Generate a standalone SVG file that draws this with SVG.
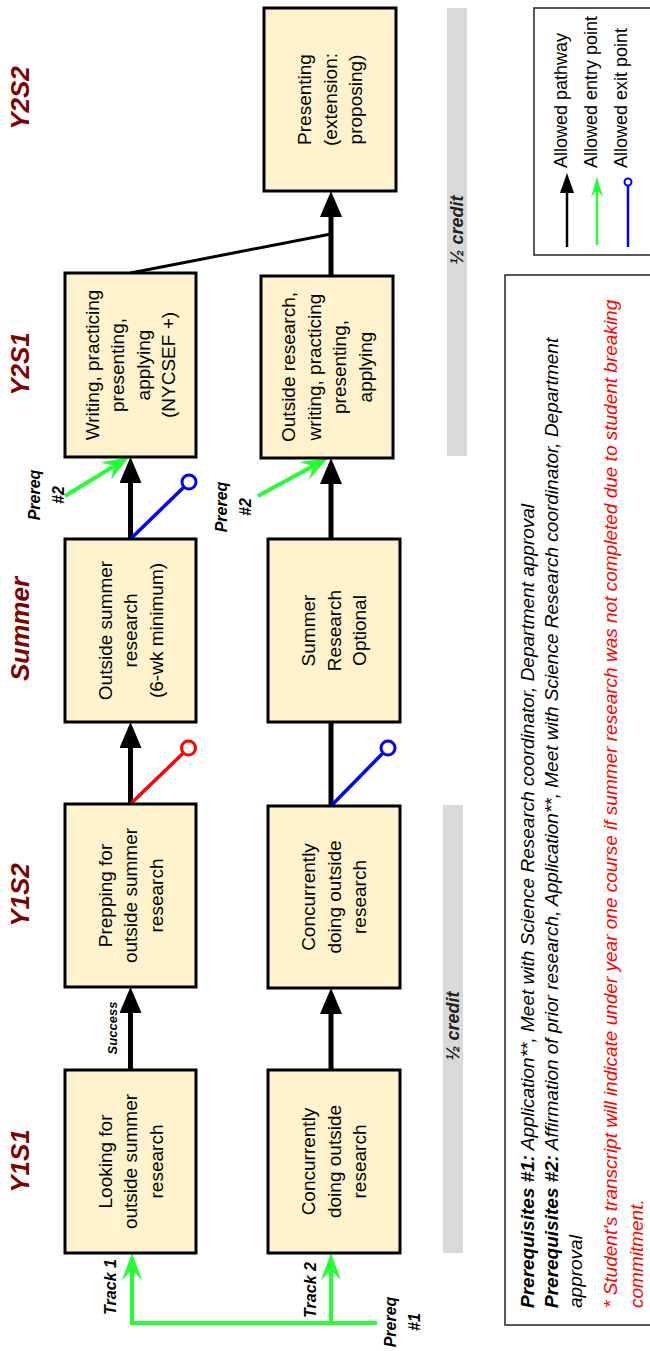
<svg xmlns="http://www.w3.org/2000/svg" width="650" height="1351" viewBox="0 0 650 1351">
<style>
.box{fill:#fff2cc;stroke:#000;stroke-width:3}
.bt{font-family:"Liberation Sans",Arial,sans-serif;font-size:19px;fill:#000;text-anchor:middle}
.per{font-family:"Liberation Sans",Arial,sans-serif;font-size:26px;font-weight:bold;font-style:italic;fill:#7f0000;text-anchor:middle}
.sm{font-family:"Liberation Sans",Arial,sans-serif;font-size:16px;font-weight:bold;font-style:italic;fill:#000;text-anchor:middle}
.leg{font-family:"Liberation Sans",Arial,sans-serif;font-size:18px;fill:#000}
.note{font-family:"Liberation Sans",Arial,sans-serif;font-size:19px;font-style:italic;fill:#000}
.cred{font-family:"Liberation Sans",Arial,sans-serif;font-size:18px;font-weight:bold;font-style:italic;fill:#222;text-anchor:middle}
.pw{stroke:#000;stroke-width:5;fill:none}
.en{stroke:#22ff33;stroke-width:4;fill:none}
.exr{stroke:#ff0000;stroke-width:3.5;fill:none}
.exb{stroke:#0000ff;stroke-width:3.5;fill:none}
.bar{fill:#d9d9d9}
.frame{fill:#fff;stroke:#222;stroke-width:1.5}
</style>
<defs>
<marker id="ah" markerUnits="userSpaceOnUse" viewBox="0 0 26 22" markerWidth="26" markerHeight="22" refX="0" refY="11" orient="auto"><path d="M0,0 L26,11 L0,22 z" fill="#000"/></marker>
<marker id="ga" markerUnits="userSpaceOnUse" viewBox="0 0 27 20" markerWidth="27" markerHeight="20" refX="10" refY="10" orient="auto"><path d="M0,0 L27,10 L0,20 L10,10 z" fill="#22ff33"/></marker>
<marker id="ahs" markerUnits="userSpaceOnUse" viewBox="0 0 20 14" markerWidth="20" markerHeight="14" refX="0" refY="7" orient="auto"><path d="M0,0 L20,7 L0,14 z" fill="#000"/></marker>
<marker id="gas" markerUnits="userSpaceOnUse" viewBox="0 0 20 12" markerWidth="20" markerHeight="12" refX="7" refY="6" orient="auto"><path d="M0,0 L20,6 L0,12 L7,6 z" fill="#22ff33"/></marker>
</defs>

<g id="period-labels">
<text class="per" transform="translate(29,1161) rotate(-90)">Y1S1</text>
<text class="per" transform="translate(29,895) rotate(-90)">Y1S2</text>
<text class="per" transform="translate(29,629) rotate(-90)">Summer</text>
<text class="per" transform="translate(29,364) rotate(-90)">Y2S1</text>
<text class="per" transform="translate(29,98) rotate(-90)">Y2S2</text>
</g>

<g id="credit-bars">
<rect class="bar" x="447" y="8" width="20" height="448"/>
<text class="cred" transform="translate(463,230) rotate(-90)">½ credit</text>
<rect class="bar" x="443" y="805" width="20" height="448"/>
<text class="cred" transform="translate(459,1026) rotate(-90)">½ credit</text>
</g>

<g id="connectors">
<!-- track 1 pathways -->
<line class="pw" x1="130.5" y1="1070" x2="130.5" y2="1013" marker-end="url(#ah)"/>
<line class="pw" x1="130.5" y1="804" x2="130.5" y2="748" marker-end="url(#ah)"/>
<line class="pw" x1="130.5" y1="539" x2="130.5" y2="483" marker-end="url(#ah)"/>
<!-- track 2 pathways -->
<line class="pw" x1="331" y1="1070" x2="331" y2="1014" marker-end="url(#ah)"/>
<line class="pw" x1="331" y1="806" x2="331" y2="722"/>
<line class="pw" x1="331" y1="539" x2="331" y2="484" marker-end="url(#ah)"/>
<line class="pw" x1="331" y1="276" x2="331" y2="217" marker-end="url(#ah)"/>
<line stroke="#000" stroke-width="3" x1="130.5" y1="273" x2="331" y2="234"/>
<!-- entry points -->
<polyline class="en" points="377,1323 132,1323 132,1270" marker-end="url(#ga)"/>
<line class="en" x1="331" y1="1323" x2="331" y2="1270" marker-end="url(#ga)"/>
<line class="en" x1="65" y1="496" x2="114.5" y2="465.9" marker-end="url(#ga)"/>
<line class="en" x1="258" y1="496" x2="313.1" y2="466.1" marker-end="url(#ga)"/>
<!-- exit points -->
<line class="exr" x1="130.5" y1="804" x2="183.4" y2="752.9"/>
<circle cx="188.5" cy="748" r="7" fill="#fff" stroke="#ff0000" stroke-width="3"/>
<line class="exb" x1="331" y1="806" x2="383" y2="753"/>
<circle cx="388" cy="748" r="7" fill="#fff" stroke="#0000ff" stroke-width="3"/>
<line class="exb" x1="130.5" y1="539" x2="184" y2="487"/>
<circle cx="189" cy="482" r="7" fill="#fff" stroke="#0000ff" stroke-width="3"/>
</g>

<g id="connector-labels">
<text class="sm" style="font-size:13px" transform="translate(117,1028) rotate(-90)">Success</text>
<text class="sm" transform="translate(116,1287) rotate(-90)">Track 1</text>
<text class="sm" transform="translate(316,1290) rotate(-90)">Track 2</text>
<text class="sm" transform="translate(396,1322) rotate(-90)">Prereq<tspan x="0" y="24">#1</tspan></text>
<text class="sm" transform="translate(40,495) rotate(-90)">Prereq<tspan x="0" y="24">#2</tspan></text>
<text class="sm" transform="translate(227,507) rotate(-90)">Prereq<tspan x="0" y="24">#2</tspan></text>
</g>

<g id="n-y1s1-t1">
<rect class="box" x="65" y="1070" width="131" height="183"/>
<text class="bt" transform="translate(130.5,1161.5) rotate(-90)"><tspan x="0" y="-19">Looking for</tspan><tspan x="0" y="6.5">outside summer</tspan><tspan x="0" y="32">research</tspan></text>
</g>
<g id="n-y1s1-t2">
<rect class="box" x="268" y="1070" width="132" height="183"/>
<text class="bt" transform="translate(334,1161.5) rotate(-90)"><tspan x="0" y="-19">Concurrently</tspan><tspan x="0" y="6.5">doing outside</tspan><tspan x="0" y="32">research</tspan></text>
</g>
<g id="n-y1s2-t1">
<rect class="box" x="65" y="804" width="131" height="183"/>
<text class="bt" transform="translate(130.5,895.5) rotate(-90)"><tspan x="0" y="-19">Prepping for</tspan><tspan x="0" y="6.5">outside summer</tspan><tspan x="0" y="32">research</tspan></text>
</g>
<g id="n-y1s2-t2">
<rect class="box" x="268" y="806" width="132" height="182"/>
<text class="bt" transform="translate(334,897) rotate(-90)"><tspan x="0" y="-19">Concurrently</tspan><tspan x="0" y="6.5">doing outside</tspan><tspan x="0" y="32">research</tspan></text>
</g>
<g id="n-summer-t1">
<rect class="box" x="65" y="539" width="131" height="183"/>
<text class="bt" transform="translate(130.5,630.5) rotate(-90)"><tspan x="0" y="-19">Outside summer</tspan><tspan x="0" y="6.5">research</tspan><tspan x="0" y="32">(6-wk minimum)</tspan></text>
</g>
<g id="n-summer-t2">
<rect class="box" x="268" y="539" width="132" height="183"/>
<text class="bt" transform="translate(334,630.5) rotate(-90)"><tspan x="0" y="-19">Summer</tspan><tspan x="0" y="6.5">Research</tspan><tspan x="0" y="32">Optional</tspan></text>
</g>
<g id="n-y2s1-t1">
<rect class="box" x="65" y="273" width="131" height="184"/>
<text class="bt" transform="translate(130.5,365) rotate(-90)"><tspan x="0" y="-31.75">Writing, practicing</tspan><tspan x="0" y="-6.25">presenting,</tspan><tspan x="0" y="19.25">applying</tspan><tspan x="0" y="44.75">(NYCSEF +)</tspan></text>
</g>
<g id="n-y2s1-t2">
<rect class="box" x="261" y="276" width="132" height="182"/>
<text class="bt" transform="translate(327,367) rotate(-90)"><tspan x="0" y="-31.75">Outside research,</tspan><tspan x="0" y="-6.25">writing, practicing</tspan><tspan x="0" y="19.25">presenting,</tspan><tspan x="0" y="44.75">applying</tspan></text>
</g>
<g id="n-y2s2">
<rect class="box" x="264" y="8" width="132" height="183"/>
<text class="bt" transform="translate(330,99.5) rotate(-90)"><tspan x="0" y="-19">Presenting</tspan><tspan x="0" y="6.5">(extension:</tspan><tspan x="0" y="32">proposing)</tspan></text>
</g>

<g id="legend">
<rect class="frame" x="534" y="8" width="125" height="247"/>
<line stroke="#000" stroke-width="2.5" x1="567" y1="247" x2="567" y2="193" marker-end="url(#ahs)"/>
<line stroke="#22ff33" stroke-width="2.5" x1="597" y1="245" x2="597" y2="190" marker-end="url(#gas)"/>
<line stroke="#0000ff" stroke-width="2.5" x1="628" y1="247" x2="628" y2="186"/>
<circle cx="628" cy="182" r="3.5" fill="#fff" stroke="#0000ff" stroke-width="2"/>
<text class="leg" transform="translate(567,168) rotate(-90)">Allowed pathway</text>
<text class="leg" transform="translate(597,168) rotate(-90)">Allowed entry point</text>
<text class="leg" transform="translate(627,168) rotate(-90)">Allowed exit point</text>
</g>

<g id="notes">
<rect class="frame" x="505" y="275" width="155" height="1050"/>
<text class="note" transform="translate(534,1308) rotate(-90)"><tspan font-weight="bold">Prerequisites #1:</tspan> Application**, Meet with Science Research coordinator, Department approval</text>
<text class="note" transform="translate(558,1308) rotate(-90)"><tspan font-weight="bold">Prerequisites #2:</tspan> Affirmation of prior research, Application**, Meet with Science Research coordinator, Department<tspan x="0" y="24">approval</tspan></text>
<text class="note" fill="#ff0000" style="fill:#ff0000" transform="translate(617,1308) rotate(-90)">* Student’s transcript will indicate under year one course if summer research was not completed due to student breaking<tspan x="0" y="26">commitment.</tspan></text>
</g>
</svg>
